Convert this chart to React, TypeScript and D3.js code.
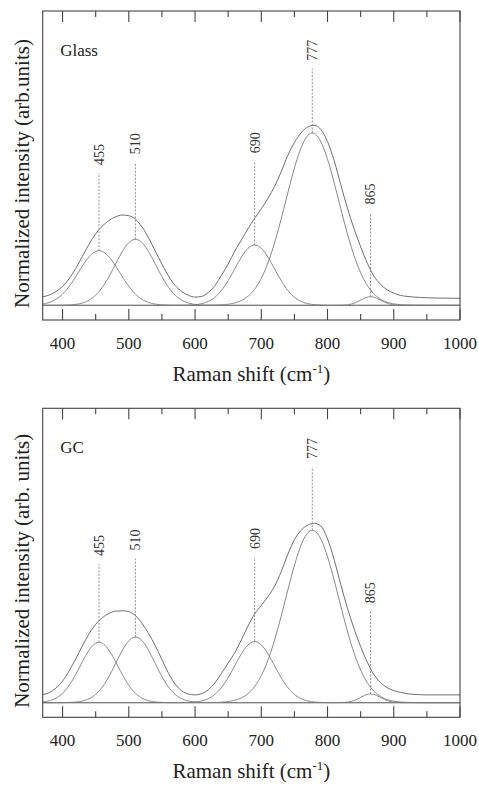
import React from "react";
import * as d3 from "d3";

// Raman shift grid of the measured spectra (cm-1)
const ramanShift = [
  370, 380, 390, 400, 410, 420, 430, 440, 450, 460, 470, 480, 490, 500, 510, 520,
  530, 540, 550, 560, 570, 580, 590, 600, 610, 620, 630, 640, 650, 660, 670, 680,
  690, 700, 710, 720, 730, 740, 750, 760, 770, 780, 790, 800, 810, 820, 830, 840,
  850, 860, 870, 880, 890, 900, 910, 920, 930, 940, 950, 960, 970, 980, 990, 1000,
];

// measured spectra (shifted up a little above the fitted bands)
const glassIntensity = [
  0.05, 0.06, 0.08, 0.11, 0.155, 0.215, 0.285, 0.355, 0.415, 0.46, 0.492, 0.514, 0.524, 0.52, 0.5, 0.455,
  0.39, 0.315, 0.24, 0.17, 0.115, 0.08, 0.058, 0.048, 0.052, 0.075, 0.115, 0.175, 0.24, 0.315, 0.38, 0.445,
  0.505, 0.56, 0.62, 0.69, 0.775, 0.87, 0.945, 1.0, 1.035, 1.045, 1.02, 0.95, 0.84, 0.7, 0.565, 0.445,
  0.34, 0.245, 0.17, 0.122, 0.09, 0.071, 0.058, 0.052, 0.048, 0.046, 0.044, 0.043, 0.042, 0.042, 0.041, 0.041,
];
const gcIntensity = [
  0.047, 0.058, 0.085, 0.125, 0.185, 0.255, 0.33, 0.4, 0.455, 0.493, 0.518, 0.531, 0.533, 0.528, 0.505, 0.46,
  0.4, 0.33, 0.25, 0.17, 0.108, 0.068, 0.05, 0.045, 0.052, 0.075, 0.115, 0.17, 0.23, 0.29, 0.365, 0.445,
  0.515, 0.565, 0.615, 0.675, 0.76, 0.86, 0.945, 1.0, 1.03, 1.04, 1.025, 0.95, 0.83, 0.685, 0.55, 0.43,
  0.325, 0.235, 0.163, 0.117, 0.087, 0.07, 0.06, 0.052, 0.048, 0.046, 0.045, 0.045, 0.045, 0.045, 0.045, 0.045,
];

// fitted gaussian bands
const bandCenters = [455, 510, 690, 777, 865];
const glassBandHeights = [0.317, 0.383, 0.35, 1.0, 0.05];
const glassBandSigmas = [31, 31, 30, 40, 15];
const gcBandHeights = [0.35, 0.38, 0.354, 1.0, 0.05];
const gcBandSigmas = [28.5, 29.5, 30, 40, 15];

const majorTicks = [400, 500, 600, 700, 800, 900, 1000];
const minorTicks = [450, 550, 650, 750, 850, 950];

const FONT = "'Liberation Serif', 'Times New Roman', serif";
const W = 479;
const H = 785;
const LEFT = 42.7;
const RIGHT = 460;
const PANEL_H = 309;

const x = d3.scaleLinear().domain([370, 1000]).range([LEFT, RIGHT]);
const grid = d3.range(370, 1000.5, 2);

interface PanelProps {
  top: number;
  title: string;
  yTitle: string;
  intensity: number[];
  heights: number[];
  sigmas: number[];
}

const valueAt = (v: number, ys: number[]) => {
  const i = d3.bisectLeft(ramanShift, v);
  if (i <= 0) return ys[0];
  if (i >= ramanShift.length) return ys[ys.length - 1];
  const t = (v - ramanShift[i - 1]) / (ramanShift[i] - ramanShift[i - 1]);
  return ys[i - 1] + t * (ys[i] - ys[i - 1]);
};

const Panel: React.FC<PanelProps> = ({ top, title, yTitle, intensity, heights, sigmas }) => {
  const bottom = top + PANEL_H;
  const y = d3.scaleLinear().domain([-0.085, 1.708]).range([bottom, top]);

  const line = d3
    .line<[number, number]>()
    .x((d) => x(d[0]))
    .y((d) => y(d[1]))
    .curve(d3.curveMonotoneX);

  const measured = line(ramanShift.map((v, i) => [v, intensity[i]] as [number, number]));

  const bands = bandCenters.map((c, k) =>
    line(
      grid.map(
        (v) => [v, heights[k] * Math.exp(-((v - c) ** 2) / (2 * sigmas[k] ** 2))] as [number, number]
      )
    )
  );

  return (
    <g>
      {/* bands */}
      {bands.map((d, k) => (
        <path key={k} d={d || ""} fill="none" stroke="#7a7a7a" strokeWidth={0.9} />
      ))}
      {/* measured spectrum */}
      <path d={measured || ""} fill="none" stroke="#6f6f6f" strokeWidth={1} />

      {/* peak markers */}
      {bandCenters.map((c, k) => {
        const lineTop = y(valueAt(c, intensity)) - 57;
        return (
          <g key={c}>
            <line
              x1={x(c)}
              x2={x(c)}
              y1={y(heights[k])}
              y2={lineTop}
              stroke="#777"
              strokeWidth={0.8}
              strokeDasharray="2,1.5"
            />
            <text
              transform={`translate(${x(c)},${lineTop - 8}) rotate(-90)`}
              dy="0.35em"
              fontSize={14}
              fontFamily={FONT}
              fill="#333"
            >
              {c}
            </text>
          </g>
        );
      })}

      {/* frame */}
      <rect x={LEFT} y={top} width={RIGHT - LEFT} height={PANEL_H} fill="none" stroke="#444" strokeWidth={1.1} />
      {majorTicks.map((t) => (
        <g key={t}>
          <line x1={x(t)} x2={x(t)} y1={top} y2={top + 11} stroke="#444" strokeWidth={1.1} />
          <line x1={x(t)} x2={x(t)} y1={bottom} y2={bottom - 11} stroke="#444" strokeWidth={1.1} />
          <text x={x(t)} y={bottom + 29} textAnchor="middle" fontSize={17} fontFamily={FONT} fill="#222">
            {t}
          </text>
        </g>
      ))}
      {minorTicks.map((t) => (
        <g key={t}>
          <line x1={x(t)} x2={x(t)} y1={top} y2={top + 6} stroke="#444" strokeWidth={1.1} />
          <line x1={x(t)} x2={x(t)} y1={bottom} y2={bottom - 6} stroke="#444" strokeWidth={1.1} />
        </g>
      ))}

      <text x={LEFT + 17.5} y={top + 45} fontSize={17} fontFamily={FONT} fill="#222">
        {title}
      </text>

      {/* axis titles */}
      <text
        transform={`translate(29,${(top + bottom) / 2 + 8}) rotate(-90)`}
        textAnchor="middle"
        fontSize={21}
        fontFamily={FONT}
        fill="#222"
      >
        {yTitle}
      </text>
      <text x={(LEFT + RIGHT) / 2} y={bottom + 61} textAnchor="middle" fontSize={21} fontFamily={FONT} fill="#222">
        Raman shift (cm
        <tspan dy={-8} fontSize={13}>
          -1
        </tspan>
        <tspan dy={8}>)</tspan>
      </text>
    </g>
  );
};

const App: React.FC = () => {
  return (
    <svg
      width={W}
      height={H}
      style={{ position: "absolute", left: 0, top: 0, background: "#fff" }}
    >
      <rect width={W} height={H} fill="#fff" />
      <Panel
        top={11}
        title="Glass"
        yTitle="Normalized intensity (arb.units)"
        intensity={glassIntensity}
        heights={glassBandHeights}
        sigmas={glassBandSigmas}
      />
      <Panel
        top={408.3}
        title="GC"
        yTitle="Normalized intensity (arb. units)"
        intensity={gcIntensity}
        heights={gcBandHeights}
        sigmas={gcBandSigmas}
      />
    </svg>
  );
};

export default App;
